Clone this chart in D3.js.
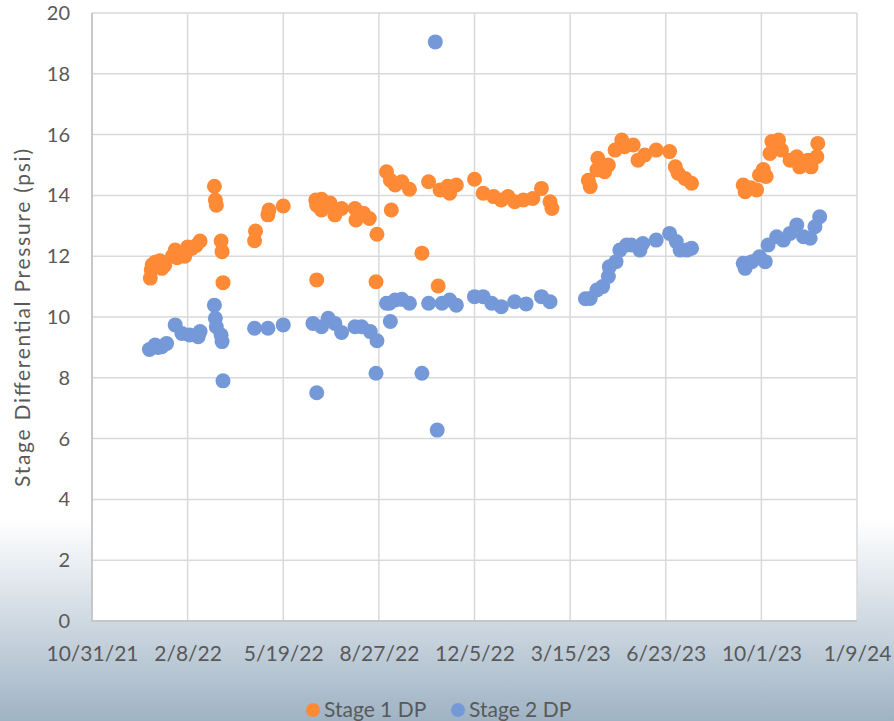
<!DOCTYPE html>
<html>
<head>
<meta charset="utf-8">
<script src="https://cdn.jsdelivr.net/npm/d3@7"></script>
<style>
  body { margin: 0; background: #fff; }
  svg { display: block; font-family: Lato, "Open Sans", sans-serif; }
</style>
</head>
<body>
<script>
// Stage 1 DP (orange)
var stage1Dates = ["2021-12-31","2022-01-01","2022-01-02","2022-01-05","2022-01-08","2022-01-10","2022-01-12","2022-01-15",
  "2022-01-23","2022-01-26","2022-01-28","2022-02-02","2022-02-05","2022-02-08","2022-02-12","2022-02-17","2022-02-21",
  "2022-03-08","2022-03-09","2022-03-10","2022-03-15","2022-03-16","2022-03-17",
  "2022-04-19","2022-04-20","2022-05-03","2022-05-04","2022-05-19",
  "2022-06-22","2022-06-23","2022-06-23","2022-06-28","2022-06-28","2022-07-07","2022-07-12","2022-07-19",
  "2022-08-02","2022-08-03","2022-08-11","2022-08-17","2022-08-25","2022-08-24",
  "2022-09-04","2022-09-08","2022-09-09","2022-09-13","2022-09-20","2022-09-28","2022-10-11","2022-10-18","2022-10-28",
  "2022-10-30","2022-11-07","2022-11-09","2022-11-16",
  "2022-12-05","2022-12-14","2022-12-25","2023-01-02","2023-01-09","2023-01-16","2023-01-25","2023-02-04","2023-02-13","2023-02-22","2023-02-24",
  "2023-04-03","2023-04-05","2023-04-12","2023-04-13","2023-04-20","2023-04-24","2023-05-01","2023-05-08","2023-05-11","2023-05-20",
  "2023-05-25","2023-06-01","2023-06-13","2023-06-27","2023-07-03","2023-07-06","2023-07-13","2023-07-20",
  "2023-09-12","2023-09-14","2023-09-20","2023-09-26","2023-09-29","2023-10-03","2023-10-06","2023-10-10","2023-10-12","2023-10-19",
  "2023-10-22","2023-10-31","2023-11-07","2023-11-10","2023-11-19","2023-11-22","2023-11-28","2023-11-29"];
var stage1Values = [11.28,11.55,11.72,11.8,11.75,11.85,11.6,11.7,
  12.0,12.2,11.95,12.1,12.0,12.3,12.25,12.35,12.5,
  14.3,13.85,13.68,12.5,12.15,11.13,
  12.51,12.83,13.36,13.52,13.65,
  13.85,13.68,11.22,13.87,13.52,13.75,13.36,13.57,
  13.57,13.19,13.41,13.24,12.72,11.16,
  14.78,14.5,13.52,14.34,14.45,14.2,12.1,14.45,11.02,
  14.18,14.3,14.07,14.34,
  14.53,14.07,13.96,13.85,13.96,13.79,13.85,13.9,14.23,13.79,13.57,
  14.5,14.29,14.84,15.22,14.78,15.0,15.49,15.82,15.6,15.66,
  15.16,15.33,15.49,15.44,14.94,14.73,14.56,14.4,
  14.34,14.12,14.25,14.18,14.67,14.85,14.62,15.38,15.77,15.82,
  15.49,15.16,15.27,14.94,15.16,14.94,15.27,15.71];

// Stage 2 DP (blue)
var stage2Dates = ["2021-12-30","2022-01-05","2022-01-08","2022-01-12","2022-01-17","2022-01-26","2022-02-02","2022-02-10","2022-02-19","2022-02-21",
  "2022-03-08","2022-03-09","2022-03-10","2022-03-15","2022-03-16","2022-03-17",
  "2022-04-19","2022-05-03","2022-05-19","2022-06-19","2022-06-23","2022-06-28","2022-07-05","2022-07-12","2022-07-19",
  "2022-08-02","2022-08-09","2022-08-18","2022-08-25","2022-08-24",
  "2022-09-04","2022-09-08","2022-09-07","2022-09-13","2022-09-20","2022-09-28","2022-10-11","2022-10-18","2022-10-25","2022-10-27",
  "2022-11-01","2022-11-09","2022-11-16","2022-12-05","2022-12-14","2022-12-23","2023-01-02","2023-01-16","2023-01-28","2023-02-13","2023-02-22",
  "2023-03-31","2023-04-05","2023-04-12","2023-04-18","2023-04-24","2023-04-25","2023-05-02","2023-05-06","2023-05-13","2023-05-18",
  "2023-05-27","2023-05-30","2023-06-13","2023-06-27","2023-07-04","2023-07-08","2023-07-15","2023-07-20",
  "2023-09-12","2023-09-14","2023-09-21","2023-09-29","2023-10-05","2023-10-08","2023-10-17","2023-10-24","2023-10-31",
  "2023-11-07","2023-11-14","2023-11-21","2023-11-26","2023-12-01"];
var stage2Values = [8.93,9.08,9.0,9.02,9.13,9.74,9.46,9.41,9.35,9.52,
  10.39,9.96,9.68,9.41,9.19,7.9,
  9.63,9.63,9.74,9.79,7.51,9.68,9.96,9.79,9.49,
  9.68,9.68,9.52,9.22,8.15,
  10.45,9.85,10.45,10.56,10.58,10.45,8.15,10.45,19.05,6.28,
  10.45,10.56,10.39,10.67,10.67,10.45,10.34,10.5,10.43,10.67,10.5,
  10.6,10.61,10.89,11.0,11.33,11.65,11.82,12.2,12.37,12.37,
  12.2,12.42,12.53,12.75,12.48,12.2,12.2,12.26,
  11.77,11.6,11.82,11.98,11.82,12.37,12.64,12.53,12.75,
  13.03,12.64,12.59,12.97,13.3];

var xStart = "2021-10-31", xEnd = "2024-01-09";
var yTicks = [0,2,4,6,8,10,12,14,16,18,20];
var seriesNames = ["Stage 1 DP","Stage 2 DP"];
var seriesColors = ["#ff8a36","#7599d8"];

var W = 894, H = 721;
var margin = {top: 13, left: 92, right: 37, bottom: 100};
var parse = d3.timeParse("%Y-%m-%d");

var svg = d3.select("body").append("svg").attr("width", W).attr("height", H);

// background gradient
var grad = svg.append("defs").append("linearGradient").attr("id","bg")
    .attr("x1",0).attr("y1",0).attr("x2",0).attr("y2",1);
grad.append("stop").attr("offset","0.72").attr("stop-color","#ffffff");
grad.append("stop").attr("offset","1").attr("stop-color","#9fb3c4");
svg.append("rect").attr("width",W).attr("height",H).attr("fill","url(#bg)");

var x = d3.scaleTime().domain([parse(xStart), parse(xEnd)]).range([margin.left, W - margin.right]);
var y = d3.scaleLinear().domain([0,20]).range([621, margin.top]);

svg.append("rect")
    .attr("x", margin.left).attr("y", margin.top)
    .attr("width", x.range()[1]-margin.left).attr("height", 621-margin.top)
    .attr("fill","#fff");

var xTicks = d3.range(9).map(function(i){ return d3.timeDay.offset(parse(xStart), i*100); });

// gridlines
svg.append("g").selectAll("line.v").data(xTicks).enter().append("line")
    .attr("x1", function(d){ return x(d); }).attr("x2", function(d){ return x(d); })
    .attr("y1", y(20)).attr("y2", y(0))
    .attr("stroke","#d9d9d9").attr("stroke-width",1.5);
svg.append("g").selectAll("line.h").data(yTicks).enter().append("line")
    .attr("x1", x.range()[0]).attr("x2", x.range()[1])
    .attr("y1", function(d){ return y(d); }).attr("y2", function(d){ return y(d); })
    .attr("stroke","#d9d9d9").attr("stroke-width",1.5);

// axis lines
svg.append("line").attr("x1",margin.left).attr("x2",margin.left).attr("y1",y(20)).attr("y2",y(0))
    .attr("stroke","#bfbfbf").attr("stroke-width",1.5);
svg.append("line").attr("x1",margin.left).attr("x2",x.range()[1]).attr("y1",y(0)).attr("y2",y(0))
    .attr("stroke","#bfbfbf").attr("stroke-width",1.5);

// axes (labels only)
var xAxis = svg.append("g").attr("transform","translate(0,621)")
    .call(d3.axisBottom(x).tickValues(xTicks).tickFormat(d3.timeFormat("%-m/%-d/%y")).tickSize(0).tickPadding(25));
var yAxis = svg.append("g").attr("transform","translate(" + margin.left + ",0)")
    .call(d3.axisLeft(y).tickValues(yTicks).tickSize(0).tickPadding(22));
[xAxis, yAxis].forEach(function(a){
  a.select(".domain").remove();
  a.selectAll("text").attr("fill","#595959").style("font-size","20px").style("font-family","Lato");
});
xAxis.selectAll("text").style("font-size","21px");

svg.append("text")
    .attr("transform","translate(30,318) rotate(-90)")
    .attr("text-anchor","middle")
    .attr("textLength",338).attr("lengthAdjust","spacing")
    .attr("fill","#595959").style("font-size","21px")
    .text("Stage Differential Pressure (psi)");

// points
var s1 = stage1Dates.map(function(d,i){ return {date: parse(d), value: stage1Values[i]}; });
var s2 = stage2Dates.map(function(d,i){ return {date: parse(d), value: stage2Values[i]}; });

svg.append("g").selectAll("circle").data(s1).enter().append("circle")
    .attr("cx", function(d){ return x(d.date); })
    .attr("cy", function(d){ return y(d.value); })
    .attr("r", 7.5).attr("fill", seriesColors[0]);
svg.append("g").selectAll("circle").data(s2).enter().append("circle")
    .attr("cx", function(d){ return x(d.date); })
    .attr("cy", function(d){ return y(d.value); })
    .attr("r", 7.5).attr("fill", seriesColors[1]);

// legend
var legendX = [313, 458];
var leg = svg.append("g").selectAll("g").data(seriesNames).enter().append("g")
    .attr("transform", function(d,i){ return "translate(" + legendX[i] + ",710)"; });
leg.append("circle").attr("r",7).attr("fill", function(d,i){ return seriesColors[i]; });
leg.append("text").attr("x",11).attr("dy","0.35em")
    .attr("fill","#595959").style("font-size","21px").text(function(d){ return d; });
</script>
</body>
</html>
